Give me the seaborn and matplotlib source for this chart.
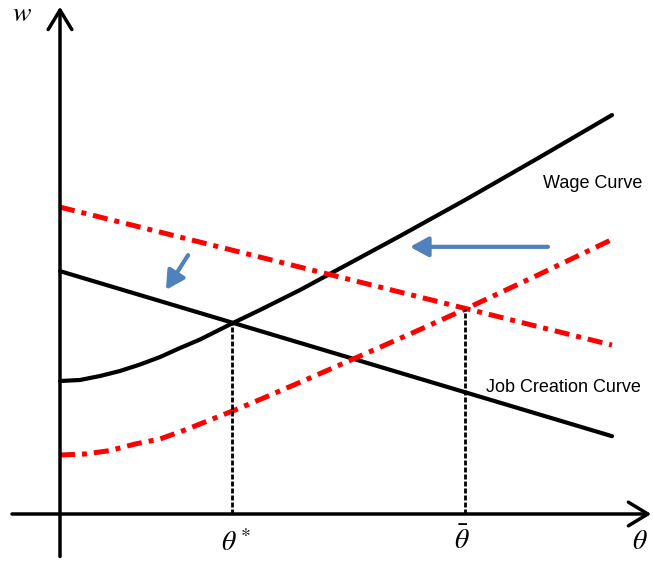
import numpy as np
import pandas as pd
import matplotlib
matplotlib.use('Agg')
import matplotlib.pyplot as plt
import seaborn as sns

# curves (theta, w)
wage_theta = [0, 0.362, 0.725, 1.087, 1.449, 1.812, 2.174, 2.536, 3.116, 3.623,
              4.348, 5.254, 6.159, 7.337, 8.696, 10]
wage_w = [2.409, 2.428, 2.500, 2.591, 2.708, 2.844, 3.007, 3.161, 3.452, 3.696,
          4.058, 4.547, 5.036, 5.688, 6.467, 7.228]

shifted_theta = [0, 0.453, 0.906, 1.359, 1.812, 2.264, 2.717, 3.170, 3.623, 4.529,
                 5.435, 6.341, 7.337, 8.696, 10]
shifted_w = [1.069, 1.087, 1.149, 1.268, 1.359, 1.522, 1.703, 1.884, 2.074, 2.464,
             2.862, 3.261, 3.710, 4.348, 4.973]

jc_theta = [0, 10]
jc_w = [4.40, 1.41]

jc_new_theta = [0, 10]
jc_new_w = [5.56, 3.06]

theta_star, w_star = 3.12, 3.46
theta_bar, w_bar = 7.34, 3.71

sns.set_style('white')
plt.rcParams['mathtext.fontset'] = 'stix'
plt.rcParams['font.family'] = ['Liberation Sans', 'DejaVu Sans']
plt.rcParams['text.color'] = 'black'

fig = plt.figure(figsize=(6.53, 5.66), dpi=100)
ax = fig.add_axes([0, 0, 1, 1])
ax.set_xlim(-1.087, 10.743)
ax.set_ylim(-0.942, 9.312)
ax.set_axis_off()

red_dash = (3, 1.4, 1, 1.4)

sns.lineplot(x=wage_theta, y=wage_w, color='black', lw=3, sort=False, estimator=None, ax=ax)
sns.lineplot(x=jc_theta, y=jc_w, color='black', lw=3, sort=False, estimator=None, ax=ax)
sns.lineplot(x=shifted_theta, y=shifted_w, color='#ff0000', lw=3.6, sort=False, estimator=None, ax=ax)
ax.lines[-1].set_dashes(red_dash)
sns.lineplot(x=jc_new_theta, y=jc_new_w, color='#ff0000', lw=3.6, sort=False, estimator=None, ax=ax)
ax.lines[-1].set_dashes(red_dash)

# vertical guides
for th, ww in [(theta_star, w_star), (theta_bar, w_bar)]:
    sns.lineplot(x=[th, th], y=[0, ww], color='black', lw=2, sort=False, estimator=None, ax=ax)
    ax.lines[-1].set_dashes((1.8, 0.72))

# axes with open arrow heads
ax.annotate('', xy=(0, 9.19), xytext=(0, -0.77),
            arrowprops=dict(arrowstyle='->,head_length=1.4,head_width=0.85', lw=2.5,
                            color='black', shrinkA=0, shrinkB=0))
ax.annotate('', xy=(10.71, 0), xytext=(-0.87, 0),
            arrowprops=dict(arrowstyle='->,head_length=1.4,head_width=0.85', lw=2.5,
                            color='black', shrinkA=0, shrinkB=0))

# shift arrows
blue = '#4f81bd'
ax.annotate('', xy=(6.34, 4.84), xytext=(8.84, 4.84),
            arrowprops=dict(arrowstyle='-|>,head_length=1.1,head_width=0.6', lw=3,
                            color=blue, shrinkA=0, shrinkB=0))
ax.annotate('', xy=(1.92, 4.06), xytext=(2.32, 4.69),
            arrowprops=dict(arrowstyle='-|>,head_length=1.1,head_width=0.6', lw=3,
                            color=blue, shrinkA=0, shrinkB=0))

# labels
ax.text(-0.69, 9.05, '$w$', fontsize=20, ha='center', va='center')
ax.text(10.51, -0.51, r'$\theta$', fontsize=20, ha='center', va='center')
ax.text(2.92, -0.53, r'$\theta^*$', fontsize=20, ha='left', va='center')
ax.text(7.28, -0.49, r'$\bar{\theta}$', fontsize=20, ha='center', va='center')
ax.text(8.75, 5.91, 'Wage Curve', fontsize=13, ha='left', va='baseline')
ax.text(7.72, 2.21, 'Job Creation Curve', fontsize=13, ha='left', va='baseline')

fig.savefig('out.png', dpi=100)
